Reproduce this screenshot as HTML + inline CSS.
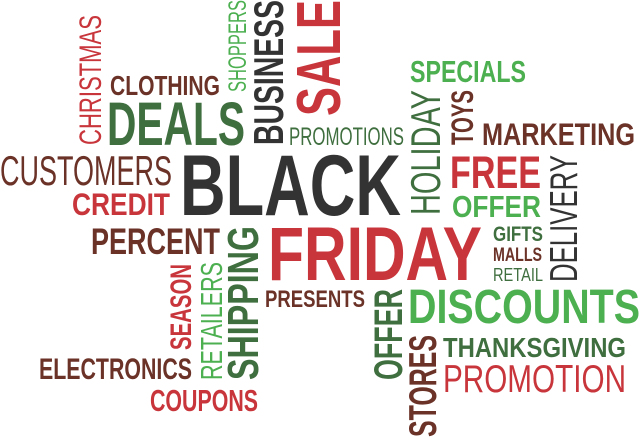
<!DOCTYPE html>
<html><head><meta charset="utf-8">
<style>
html,body{margin:0;padding:0;background:#fff;width:640px;height:442px;overflow:hidden}
svg{display:block}
text{font-family:"Liberation Sans Narrow","Liberation Sans",sans-serif}
</style></head>
<body>
<svg id="cloud" width="640" height="442" viewBox="0 0 640 442" xmlns="http://www.w3.org/2000/svg"></svg>
<script>
var R='#c8363c',G='#3f6e3f',L='#4caf50',B='#6b3228',D='#333333';
// text, x0, y0, x1, y1, vertical, color, bold
var words=[
['CHRISTMAS',78,15,101,145,1,R,0],
['CLOTHING',110,75,220,95,0,B,1],
['DEALS',107,101,245,145,0,G,1],
['SHOPPERS',228,0,246,92,1,L,0],
['BUSINESS',253,0,283,145,1,D,1],
['SALE',295,0,340,116,1,R,1],
['PROMOTIONS',289,127,404,145,0,G,0],
['CUSTOMERS',0,155,172,185,0,B,0],
['CREDIT',72,192,170,215,0,R,1],
['BLACK',180,153,401,215,0,D,1],
['SPECIALS',410,60,526,82,0,L,1],
['HOLIDAY',410,90,440,215,1,G,0],
['TOYS',450,90,473,145,1,B,1],
['MARKETING',482,122,635,145,0,B,1],
['FREE',450,155,541,188,0,R,1],
['OFFER',452,195,541,217,0,L,1],
['DELIVERY',549,155,577,282,1,D,0],
['PERCENT',91,227,220,254,0,B,1],
['SHIPPING',227,226,258,380,1,G,1],
['SEASON',170,264,191,350,1,R,1],
['RETAILERS',200,262,222,380,1,L,0],
['ELECTRONICS',39,358,192,379,0,B,1],
['COUPONS',150,389,258,411,0,R,1],
['FRIDAY',268,225,482,280,0,R,1],
['PRESENTS',265,290,365,307,0,B,1],
['GIFTS',493,226,543,241,0,G,1],
['MALLS',493,247,542,261,0,B,1],
['RETAIL',493,268,543,281,0,G,0],
['OFFER',373,289,402,380,1,G,1],
['DISCOUNTS',408,288,640,323,0,L,1],
['STORES',408,335,436,437,1,B,1],
['THANKSGIVING',443,337,626,357,0,G,1],
['PROMOTION',443,364,626,392,0,R,0]
];
var svg=document.getElementById('cloud');
var NS='http://www.w3.org/2000/svg';
words.forEach(function(w){
  var t=document.createElementNS(NS,'text');
  t.textContent=w[0];
  var vert=w[5];
  var cap=vert?(w[3]-w[1]):(w[4]-w[2]);
  var len=vert?(w[4]-w[2]):(w[3]-w[1]);
  t.setAttribute('font-size',(cap/0.72).toFixed(1));
  t.setAttribute('font-weight',w[7]?'bold':'normal');
  t.setAttribute('fill',w[6]);
  t.setAttribute('textLength',len);
  t.setAttribute('lengthAdjust','spacingAndGlyphs');
  if(vert){
    t.setAttribute('x',0);t.setAttribute('y',0);
    t.setAttribute('transform','translate('+w[3]+','+w[4]+') rotate(-90)');
  }else{
    t.setAttribute('x',w[1]);t.setAttribute('y',w[4]);
  }
  
  
  svg.appendChild(t);
});
</script>
</body></html>
